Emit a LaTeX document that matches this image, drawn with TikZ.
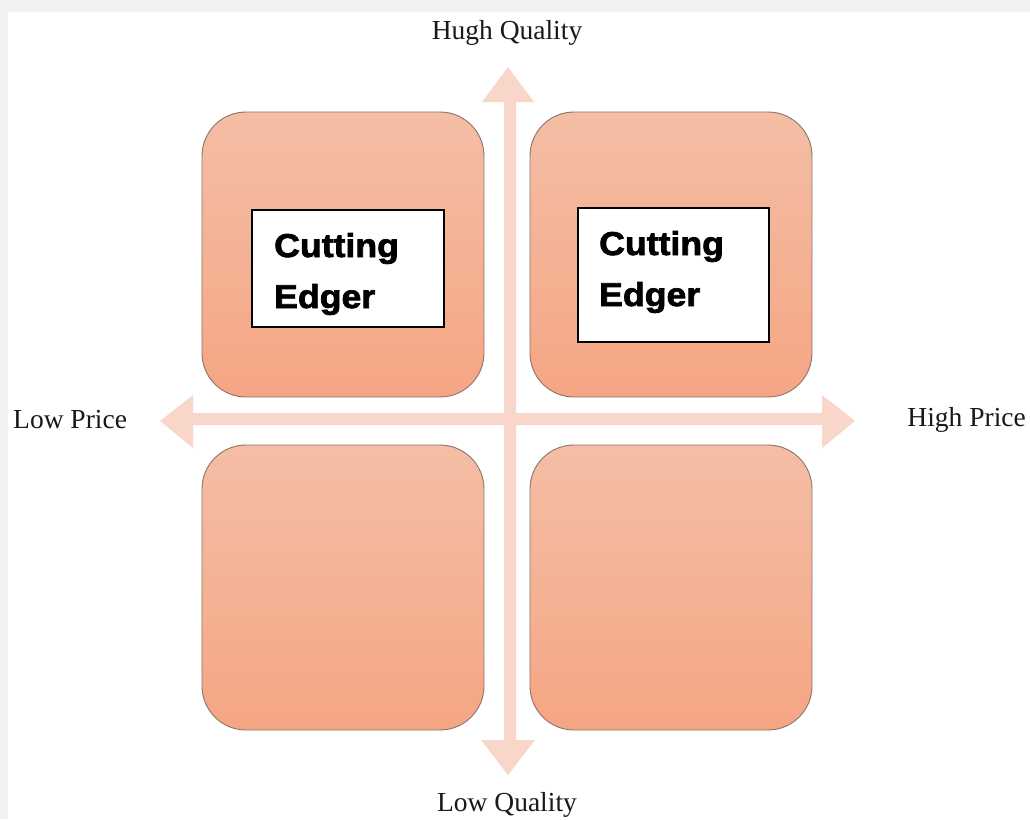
\documentclass[tikz,border=0pt]{standalone}
\usepackage{fontspec}
\setmainfont{Liberation Serif}
\newfontfamily\boldsans[FakeBold=2.2,FakeStretch=1.08]{Liberation Sans Bold}
\begin{document}
\begin{tikzpicture}[x=1pt,y=-1pt]
\definecolor{arrowpink}{HTML}{F9D6CA}
\definecolor{boxtop}{HTML}{F4BEA5}
\definecolor{boxbot}{HTML}{F5A584}
\definecolor{boxedge}{HTML}{8C7468}
\definecolor{bggray}{HTML}{F2F2F2}
\tikzset{
  quad/.style={rounded corners=44pt, top color=boxtop, bottom color=boxbot, draw=boxedge, line width=0.9pt},
  inner/.style={draw=black, fill=white, line width=1.1pt},
  cuttext/.style={font=\boldsans\fontsize{33}{51}\selectfont, anchor=base west, inner sep=0pt},
  axislabel/.style={font=\fontsize{27.5}{30}\selectfont, text=black!90, inner sep=0pt}
}
\useasboundingbox (0,0) rectangle (1030,819);
\fill[bggray] (0,0) rectangle (1030,819);
\fill[white] (8,12) rectangle (1030,819);
% axes arrows
\fill[arrowpink] (504,102) -- (482,102) -- (508,67) -- (534,102) -- (516,102)
  -- (516,740) -- (535,740) -- (508,775) -- (481,740) -- (504,740) -- cycle;
\fill[arrowpink] (193,413) -- (193,395) -- (160,421) -- (193,448) -- (193,425)
  -- (822,425) -- (822,448) -- (855,421) -- (822,395) -- (822,413) -- cycle;
% quadrants
\draw[quad] (202,112) rectangle (484,397);
\draw[quad] (530,112) rectangle (812,397);
\draw[quad] (202,445) rectangle (484,730);
\draw[quad] (530,445) rectangle (812,730);
% inner boxes
\draw[inner] (252,210) rectangle (444,327);
\draw[inner] (578,208) rectangle (769,342);
\node[cuttext] (tl1) at (274,257) {Cutting};
\node[cuttext] (tl2) at (274,308) {Edger};
\node[cuttext] (tr1) at (599,255) {Cutting};
\node[cuttext] (tr2) at (599,306) {Edger};
% labels
\node[axislabel] (hq) at (507,33) {Hugh Quality};
\node[axislabel] (lq) at (507,805) {Low Quality};
\node[axislabel, anchor=west] (lp) at (13,420) {Low Price};
\node[axislabel, anchor=east] (hp) at (1026,420) {High Price};
\end{tikzpicture}
\end{document}
